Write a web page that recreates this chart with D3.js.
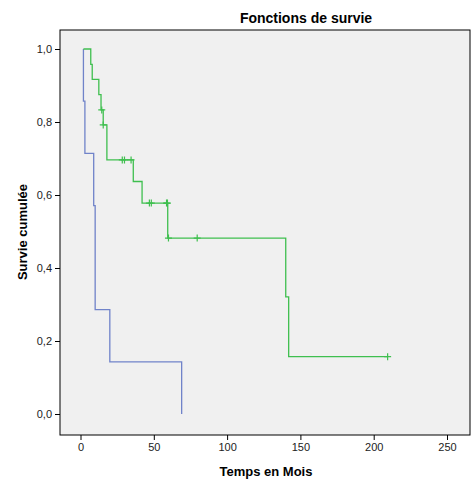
<!DOCTYPE html><html><head><meta charset="utf-8"><script src="https://cdn.jsdelivr.net/npm/d3@7"></script>
<style>body{margin:0;background:#fff;font-family:Arial,"Liberation Sans",sans-serif}</style></head><body><svg id="c" width="471" height="495"></svg><script>
const xTicks=[0,50,100,150,200,250];
const yTicks=[0,0.2,0.4,0.6,0.8,1.0];
const blueTimes=[2,2,3,9,10,20,69];
const blueSurv=[1,0.857,0.714,0.571,0.286,0.143,0];
const greenTimes=[2,7,8,12.5,14,15.5,18,36,42,59.5,140,142,209.5];
const greenSurv=[1,0.958,0.917,0.875,0.833,0.792,0.696,0.637,0.578,0.482,0.321,0.157,0.157];
const greenCensorT=[14.5,15.5,28.5,30,34.5,47,48.3,58.7,59.3,60,79.6,209.5];
const greenCensorS=[0.833,0.792,0.696,0.696,0.696,0.578,0.578,0.578,0.578,0.482,0.482,0.157];
const svg=d3.select("#c");
const L=60,T=30,R=470,B=435;
const x=d3.scaleLinear().domain([0,250]).range([80.5,447]);
const y=d3.scaleLinear().domain([0,1]).range([414,49]);
svg.append("rect").attr("x",L).attr("y",T).attr("width",R-L).attr("height",B-T).attr("fill","#f0f0f0").attr("stroke","#000").attr("stroke-width",1);
const xa=svg.append("g").attr("transform",`translate(0,${B})`).call(d3.axisBottom(x).tickValues(xTicks).tickSize(5).tickFormat(d3.format("d")));
xa.select(".domain").remove();
xa.selectAll("text").attr("font-size",11).attr("fill","#222").attr("font-family","Arial");
const ya=svg.append("g").attr("transform",`translate(${L},0)`).call(d3.axisLeft(y).tickValues(yTicks).tickSize(5).tickFormat(d=>d.toFixed(1).replace(".",",")));
ya.select(".domain").remove();
ya.selectAll("text").attr("font-size",11).attr("fill","#222").attr("font-family","Arial");
const line=d3.line().x(d=>x(d[0])).y(d=>y(d[1])).curve(d3.curveStepAfter);
function draw(ts,ss,col){
  const pts=ts.map((t,i)=>[t,ss[i]]);
  svg.append("path").datum(pts).attr("d",line).attr("fill","none").attr("stroke",col).attr("stroke-width",1.3);
}
draw(blueTimes,blueSurv,"#7083c9");
draw(greenTimes,greenSurv,"#3fbf4f");
svg.append("g").selectAll("path").data(greenCensorT.map((t,i)=>[t,greenCensorS[i]])).join("path")
 .attr("d",d=>`M${x(d[0])-3.5},${y(d[1])}h7M${x(d[0])},${y(d[1])-3.5}v7`).attr("stroke","#3fbf4f").attr("stroke-width",1.2);
svg.append("text").attr("x",306).attr("y",23).attr("text-anchor","middle").attr("font-size",14).attr("font-weight","bold").text("Fonctions de survie");
svg.append("text").attr("x",266).attr("y",476).attr("text-anchor","middle").attr("font-size",13).attr("font-weight","bold").text("Temps en Mois");
svg.append("text").attr("transform","translate(27,232) rotate(-90)").attr("text-anchor","middle").attr("font-size",13).attr("font-weight","bold").text("Survie cumulée");
</script></body></html>
